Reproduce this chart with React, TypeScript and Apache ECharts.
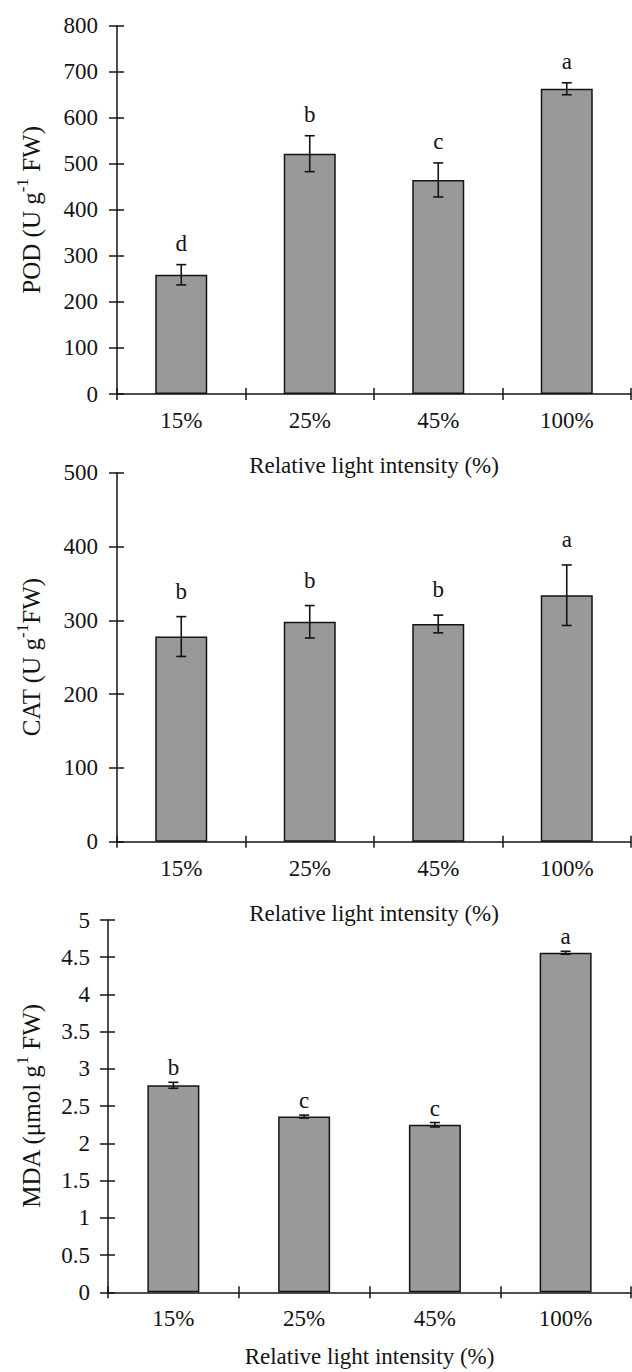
import React, { useEffect, useRef } from "react";
import * as echarts from "echarts";

const categories = ["15%", "25%", "45%", "100%"];

const podMean = [259, 522, 465, 663];
const podErr = [22, 39, 37, 13];
const podLetters = ["d", "b", "c", "a"];

const catMean = [278, 298, 295, 334];
const catErr = [27, 22, 12, 41];
const catLetters = ["b", "b", "b", "a"];

const mdaMean = [2.78, 2.36, 2.25, 4.56];
const mdaErr = [0.04, 0.02, 0.03, 0.02];
const mdaLetters = ["b", "c", "c", "a"];

const podTicks = { min: 0, max: 800, interval: 100 };
const catTicks = { min: 0, max: 500, interval: 100 };
const mdaTicks = { min: 0, max: 5, interval: 0.5 };

const xName = "Relative light intensity (%)";

const FONT = "Liberation Serif";
const INK = "#141414";

export default function App() {
  const ref = useRef<HTMLDivElement>(null);

  useEffect(() => {
    document.body.style.margin = "0";
    const chart = echarts.init(ref.current!, null, { renderer: "svg" });

    const panels = [
      { top: 25.7, height: 368.3, left: 117, mean: podMean, err: podErr, letters: podLetters, ticks: podTicks,
        yname: "{n|POD (U g}{s|-1}{n| FW)}", ygap: 73, ymargin: 19, xgap: 60, gapL: 10 },
      { top: 472.7, height: 369, left: 117, mean: catMean, err: catErr, letters: catLetters, ticks: catTicks,
        yname: "{n|CAT (U g}{s|-1}{n|FW)}", ygap: 73, ymargin: 19, xgap: 60, gapL: 14 },
      { top: 920, height: 372.3, left: 108, mean: mdaMean, err: mdaErr, letters: mdaLetters, ticks: mdaTicks,
        yname: "{n|MDA (μmol g}{s|1}{n| FW)}", ygap: 64, ymargin: 18, xgap: 53, gapL: 3 },
    ];

    const grid: any[] = [];
    const xAxis: any[] = [];
    const yAxis: any[] = [];
    const series: any[] = [];

    panels.forEach((p, k) => {
      grid.push({ left: p.left, right: 1, top: p.top, height: p.height, containLabel: false });
      const lineStyle = { color: INK, width: 1.5 };
      xAxis.push({
        type: "category", gridIndex: k, data: categories,
        axisLine: { show: true, lineStyle },
        axisTick: { show: true, inside: false, length: 6, lineStyle },
        axisLabel: { margin: 15, fontFamily: FONT, fontSize: 23, color: INK },
        name: xName, nameLocation: "middle", nameGap: p.xgap,
        nameTextStyle: { fontFamily: FONT, fontSize: 23, color: INK },
        splitLine: { show: false },
      });
      xAxis.push({
        type: "category", gridIndex: k, data: categories, position: "bottom",
        axisLine: { show: false },
        axisTick: { show: true, inside: true, length: 6, lineStyle },
        axisLabel: { show: false },
        splitLine: { show: false },
      });
      yAxis.push({
        type: "value", gridIndex: k, min: p.ticks.min, max: p.ticks.max, interval: p.ticks.interval,
        axisLine: { show: true, lineStyle },
        axisTick: { show: true, inside: false, length: 8, lineStyle },
        axisLabel: { margin: p.ymargin, fontFamily: FONT, fontSize: 23, color: INK },
        splitLine: { show: false },
        name: p.yname, nameLocation: "middle", nameGap: p.ygap,
        nameTextStyle: {
          fontFamily: FONT, fontSize: 25, color: INK,
          rich: {
            n: { fontFamily: FONT, fontSize: 25, color: INK, lineHeight: 30, verticalAlign: "bottom" },
            s: { fontFamily: FONT, fontSize: 17, color: INK, lineHeight: 30, verticalAlign: "top" },
          },
        },
      });
      yAxis.push({
        type: "value", gridIndex: k, min: p.ticks.min, max: p.ticks.max, interval: p.ticks.interval,
        position: "left",
        axisLine: { show: false },
        axisTick: { show: true, inside: true, length: 7, lineStyle },
        axisLabel: { show: false },
        splitLine: { show: false },
      });
      series.push({
        type: "bar", xAxisIndex: 2 * k, yAxisIndex: 2 * k, data: p.mean, barWidth: 52,
        itemStyle: { color: "#999999", borderColor: INK, borderWidth: 1.5 },
        z: 2,
      });
      const letters = p.letters;
      const gapL = p.gapL;
      series.push({
        type: "custom", xAxisIndex: 2 * k, yAxisIndex: 2 * k, z: 5,
        data: p.mean.map((m, i) => [i, m, p.err[i]]),
        encode: { x: 0, y: 1 },
        renderItem: (params: any, api: any) => {
          const i = api.value(0);
          const m = api.value(1);
          const e = api.value(2);
          const t = api.coord([i, m + e]);
          const b = api.coord([i, m - e]);
          const x = t[0];
          const st = { stroke: INK, lineWidth: 1.6 };
          return {
            type: "group",
            children: [
              { type: "line", shape: { x1: x, y1: t[1], x2: x, y2: b[1] }, style: st },
              { type: "line", shape: { x1: x - 5, y1: t[1], x2: x + 5, y2: t[1] }, style: st },
              { type: "line", shape: { x1: x - 5, y1: b[1], x2: x + 5, y2: b[1] }, style: st },
              {
                type: "text",
                style: {
                  text: letters[params.dataIndex], x, y: t[1] - gapL,
                  align: "center", verticalAlign: "bottom",
                  font: `23px "${FONT}"`, fill: INK,
                },
              },
            ],
          };
        },
      });
    });

    chart.setOption({
      animation: false,
      backgroundColor: "#ffffff",
      grid, xAxis, yAxis, series,
    });

    return () => chart.dispose();
  }, []);

  return <div ref={ref} style={{ width: 632, height: 1372 }} />;
}
